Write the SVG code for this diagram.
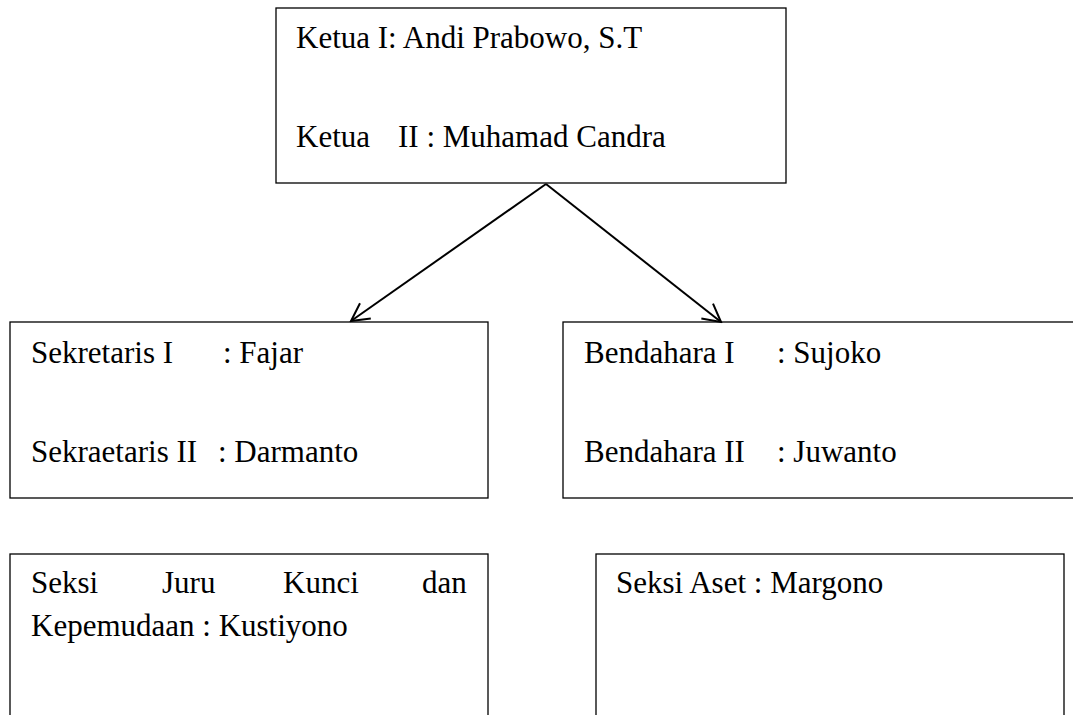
<svg xmlns="http://www.w3.org/2000/svg" width="1073" height="715" viewBox="0 0 1073 715">
<style>
.box{fill:#fff;stroke:#000;stroke-width:1.3}
.t{font-family:"Liberation Serif","Times New Roman",serif;font-size:31px;fill:#000}
.c{stroke:#000;stroke-width:2;fill:none}
</style>
<defs>
<marker id="ah" markerUnits="userSpaceOnUse" viewBox="-20 -12 22 24" markerWidth="22" markerHeight="24" refX="0" refY="0" orient="auto">
<path d="M-17.6,-9.4 L0,0 L-17.6,9.4" fill="none" stroke="#000" stroke-width="2"/>
</marker>
</defs>
<rect width="1073" height="715" fill="#fff"/>
<g id="ketua">
<rect class="box" x="276" y="8" width="510" height="175"/>
<text class="t" x="296" y="48">Ketua I: Andi Prabowo, S.T</text>
<text class="t" y="147"><tspan x="296">Ketua</tspan><tspan x="398">II : Muhamad Candra</tspan></text>
</g>
<g id="sekretaris">
<rect class="box" x="10" y="322" width="478" height="176"/>
<text class="t" y="363"><tspan x="31">Sekretaris I</tspan><tspan x="223">: Fajar</tspan></text>
<text class="t" y="462"><tspan x="31">Sekraetaris II</tspan><tspan x="218">: Darmanto</tspan></text>
</g>
<g id="bendahara">
<rect class="box" x="563" y="322" width="520" height="176"/>
<text class="t" y="363"><tspan x="584">Bendahara I</tspan><tspan x="777">: Sujoko</tspan></text>
<text class="t" y="462"><tspan x="584">Bendahara II</tspan><tspan x="777">: Juwanto</tspan></text>
</g>
<g id="seksi-juru-kunci">
<rect class="box" x="10" y="554" width="478" height="180"/>
<text class="t" y="593"><tspan x="31">Seksi</tspan><tspan x="162">Juru</tspan><tspan x="283">Kunci</tspan><tspan x="422">dan</tspan></text>
<text class="t" x="31" y="636">Kepemudaan : Kustiyono</text>
</g>
<g id="seksi-aset">
<rect class="box" x="596" y="554" width="468" height="180"/>
<text class="t" x="616" y="593">Seksi Aset : Margono</text>
</g>
<g id="connectors">
<line class="c" x1="546" y1="184" x2="351" y2="321" marker-end="url(#ah)"/>
<line class="c" x1="546" y1="184" x2="721" y2="322" marker-end="url(#ah)"/>
</g>
</svg>
